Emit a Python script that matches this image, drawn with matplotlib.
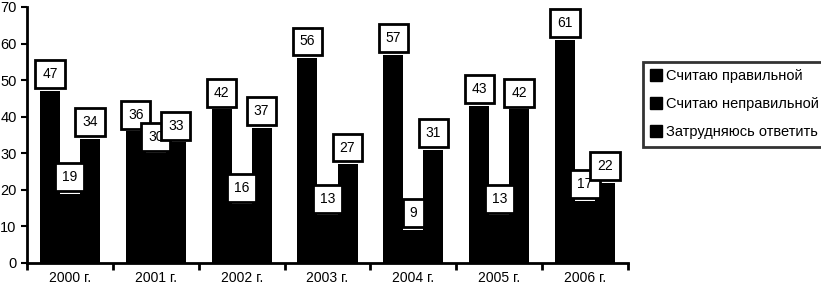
import matplotlib
matplotlib.use("Agg")
import matplotlib.pyplot as plt
import numpy as np
from matplotlib.patches import Patch

years = ["2000 г.", "2001 г.", "2002 г.", "2003 г.", "2004 г.", "2005 г.", "2006 г."]
series_names = ["Считаю правильной", "Считаю неправильной", "Затрудняюсь ответить"]
correct = [47, 36, 42, 56, 57, 43, 61]
incorrect = [19, 30, 16, 13, 9, 13, 17]
unsure = [34, 33, 37, 27, 31, 42, 22]
yticks = [0, 10, 20, 30, 40, 50, 60, 70]

plt.rcParams['font.family'] = ['Liberation Sans', 'DejaVu Sans']

fig = plt.figure(figsize=(8.21, 2.94), dpi=100)
ax = fig.add_axes([27/821, 1-263/294, (628-27)/821, (263-7)/294])

x = np.arange(len(years))
w = 0.233
all_series = [correct, incorrect, unsure]
for i, vals in enumerate(all_series):
    pos = x + (i - 1) * w
    ax.bar(pos, vals, width=w, color='black', edgecolor='black', linewidth=0)
    for p, v in zip(pos, vals):
        ax.annotate(str(v), (p, v), xytext=(0, 7), textcoords='offset points',
                    ha='center', va='bottom', fontsize=10,
                    bbox=dict(boxstyle='square,pad=0.5', facecolor='white',
                              edgecolor='black', linewidth=2))

ax.set_xlim(-0.5, len(years) - 0.5)
ax.set_ylim(0, 70)
ax.set_yticks(yticks)
ax.set_xticks(x)
ax.set_xticklabels(years, fontsize=10)
ax.set_xticks(np.arange(len(years) + 1) - 0.5, minor=True)
ax.tick_params(axis='x', which='major', length=0, pad=6)
ax.tick_params(axis='x', which='minor', length=5, width=2, direction='out')
ax.tick_params(axis='y', length=4, width=1.5, labelsize=10.5)
for s in ['top', 'right']:
    ax.spines[s].set_visible(False)
for s in ['left', 'bottom']:
    ax.spines[s].set_linewidth(2)

handles = [Patch(facecolor='black', edgecolor='black') for _ in series_names]
leg = fig.legend(handles, series_names, loc='upper left', bbox_to_anchor=(643/821, 1-62/294),
                 bbox_transform=fig.transFigure, fontsize=10.5, frameon=True, fancybox=False,
                 handlelength=0.8, handleheight=0.9, handletextpad=0.3, labelspacing=0.95,
                 borderpad=0.5, borderaxespad=0)
leg.get_frame().set_edgecolor('black')
leg.get_frame().set_linewidth(2)

fig.savefig("out.png", dpi=100)
